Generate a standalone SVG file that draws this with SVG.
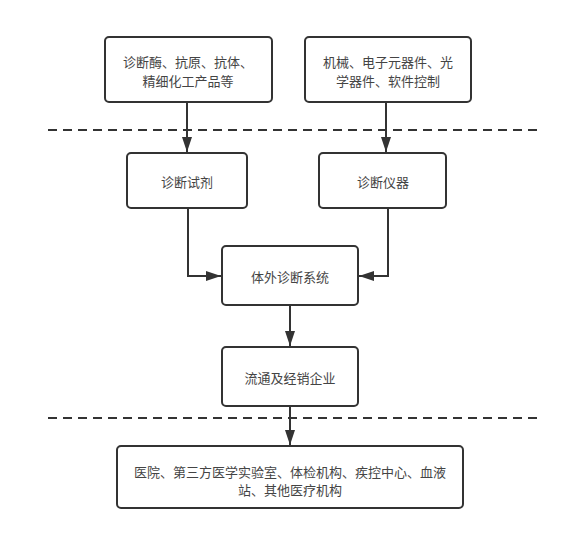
<svg xmlns="http://www.w3.org/2000/svg" width="588" height="542" viewBox="0 0 588 542">
<defs>
<style>
.box{fill:#fff;stroke:#333;stroke-width:2}
.t{font-family:"Noto Sans CJK SC","Noto Sans",sans-serif;font-size:13px;fill:#444;text-anchor:middle;dominant-baseline:central}
.c{fill:none;stroke:#333;stroke-width:2}
.d{fill:none;stroke:#333;stroke-width:2;stroke-dasharray:9 6}
</style>
<marker id="ah" viewBox="0 0 15 10" refX="15" refY="5" markerWidth="7.5" markerHeight="5" orient="auto" markerUnits="strokeWidth">
<path d="M0,0 L15,5 L0,10 z" fill="#333"/>
</marker>
</defs>
<rect width="588" height="542" fill="#fff"/>
<g id="dividers">
<line class="d" x1="48" y1="130" x2="540" y2="130"/>
<line class="d" x1="48" y1="418" x2="540" y2="418"/>
</g>
<g id="connectors">
<path class="c" d="M187,102 V152" marker-end="url(#ah)"/>
<path class="c" d="M386,102 V152" marker-end="url(#ah)"/>
<path class="c" d="M188,208 V276 H221" marker-end="url(#ah)"/>
<path class="c" d="M388,208 V276 H359" marker-end="url(#ah)"/>
<path class="c" d="M290,305 V346" marker-end="url(#ah)"/>
<path class="c" d="M290,406 V445" marker-end="url(#ah)"/>
</g>
<g id="n1">
<rect class="box" x="105" y="37" width="167" height="65" rx="4"/>
<text class="t" x="188" y="61">诊断酶、抗原、抗体、</text>
<text class="t" x="188" y="80">精细化工产品等</text>
</g>
<g id="n2">
<rect class="box" x="305" y="37" width="166" height="65" rx="4"/>
<text class="t" x="388" y="61">机械、电子元器件、光</text>
<text class="t" x="388" y="80">学器件、软件控制</text>
</g>
<g id="n3">
<rect class="box" x="127" y="153" width="120" height="55" rx="4"/>
<text class="t" x="187" y="181">诊断试剂</text>
</g>
<g id="n4">
<rect class="box" x="319" y="153" width="127" height="55" rx="4"/>
<text class="t" x="383" y="181">诊断仪器</text>
</g>
<g id="n5">
<rect class="box" x="222" y="246" width="136" height="59" rx="4"/>
<text class="t" x="290" y="276">体外诊断系统</text>
</g>
<g id="n6">
<rect class="box" x="222" y="347" width="136" height="59" rx="4"/>
<text class="t" x="290" y="377">流通及经销企业</text>
</g>
<g id="n7">
<rect class="box" x="117" y="446" width="346" height="62" rx="4"/>
<text class="t" x="290" y="471">医院、第三方医学实验室、体检机构、疾控中心、血液</text>
<text class="t" x="290" y="489">站、其他医疗机构</text>
</g>
</svg>
